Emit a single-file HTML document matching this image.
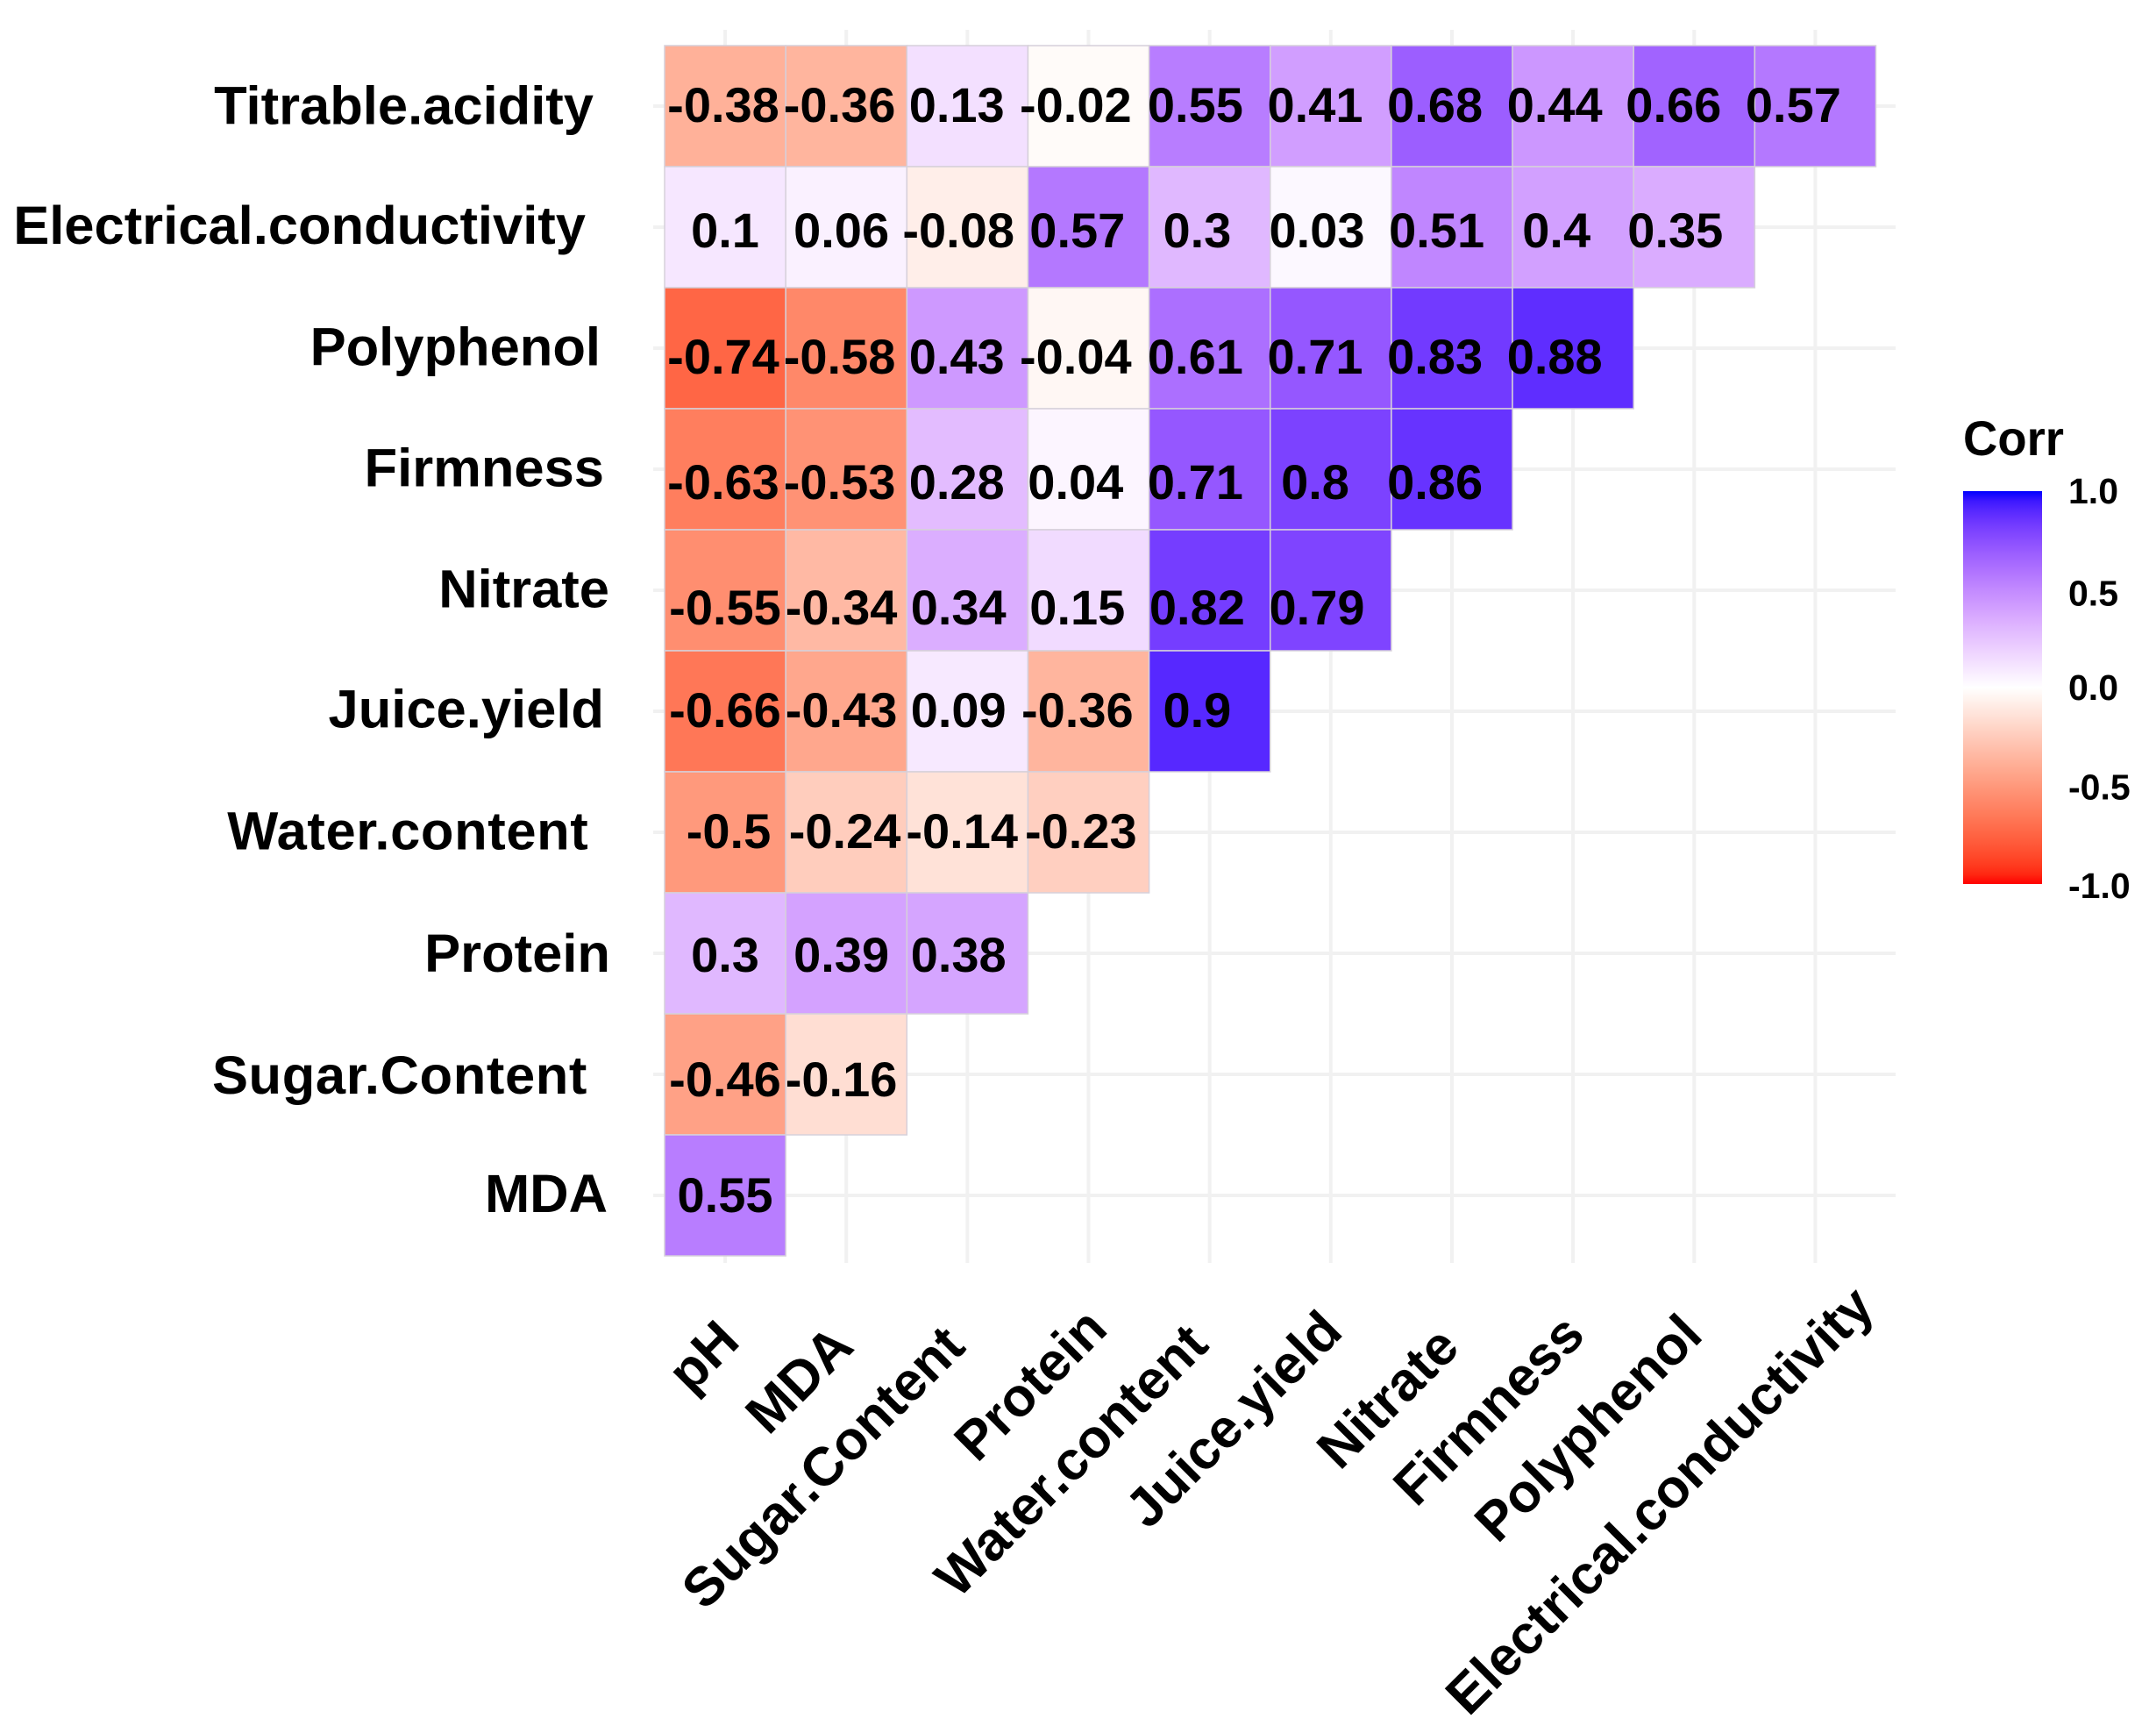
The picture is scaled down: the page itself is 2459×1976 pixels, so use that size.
<!DOCTYPE html>
<html lang="en">
<head>
<meta charset="utf-8">
<title>Correlation heatmap</title>
<style>
  html, body { margin: 0; padding: 0; background: #fff; }
  svg { display: block; }
  text { font-family: "Liberation Sans", Arial, sans-serif; font-weight: bold; fill: #000; }
</style>
</head>
<body>
<svg id="chart" xmlns="http://www.w3.org/2000/svg" width="2459" height="1976" viewBox="0 0 2459 1976">
  <defs>
    <linearGradient id="legend-gradient" x1="0" y1="0" x2="0" y2="1"></linearGradient>
  </defs>
  <rect x="0" y="0" width="2459" height="1976" fill="#ffffff"/>
  <g id="grid"></g>
  <g id="cells"></g>
  <g id="values"></g>
  <g id="y-axis"></g>
  <g id="x-axis"></g>
  <g id="legend">
    <text x="2239" y="519" font-size="56" textLength="115" lengthAdjust="spacingAndGlyphs">Corr</text>
    <rect x="2239" y="560" width="90" height="448" fill="url(#legend-gradient)"/>
  </g>
</svg>
<script>
// ---- Data ----
const xCategories = ["pH", "MDA", "Sugar.Content", "Protein", "Water.content", "Juice.yield", "Nitrate", "Firmness", "Polyphenol", "Electrical.conductivity"];
const yCategories = ["Titrable.acidity", "Electrical.conductivity", "Polyphenol", "Firmness", "Nitrate", "Juice.yield", "Water.content", "Protein", "Sugar.Content", "MDA"];
const titrableAcidity = [-0.38, -0.36, 0.13, -0.02, 0.55, 0.41, 0.68, 0.44, 0.66, 0.57];
const electricalConductivity = [0.1, 0.06, -0.08, 0.57, 0.3, 0.03, 0.51, 0.4, 0.35];
const polyphenol = [-0.74, -0.58, 0.43, -0.04, 0.61, 0.71, 0.83, 0.88];
const firmness = [-0.63, -0.53, 0.28, 0.04, 0.71, 0.8, 0.86];
const nitrate = [-0.55, -0.34, 0.34, 0.15, 0.82, 0.79];
const juiceYield = [-0.66, -0.43, 0.09, -0.36, 0.9];
const waterContent = [-0.5, -0.24, -0.14, -0.23];
const protein = [0.3, 0.39, 0.38];
const sugarContent = [-0.46, -0.16];
const mda = [0.55];
const legendTicks = [1.0, 0.5, 0.0, -0.5, -1.0];
const legendTickLabels = ["1.0", "0.5", "0.0", "-0.5", "-1.0"];

// ---- Layout (label nudges only; not data) ----
const PLOT_LEFT = 758, PLOT_TOP = 52, CELL_W = 138.15, CELL_H = 138;
const valueRowShift = [18, 23, 29, 34, 39, 18, 18, 21, 25, 19];
const valueRowShiftX = [-2, 0, -2, -2, 0, 0, 4, 0, 0, 0];
const valueColShift = [2, -1, -3, -3, -2, -1, 0, 1, 1, 2];
const yLabelNudge = [-16, -25, -8, -4, 2, -4, -21.6, 3, -23, 0];
const yLabelRowShift = [20.7, 19, 19.7, 19.3, 19.5, 18.5, 19.6, 21, 22, 19];
const yLabelSpacing = [0, 0, 0, 0, 0, 0, 0.6, 0, 0.6, 0];
const xLabelShiftX = [19, 11, 0, 24, 1, 16, 11, 16, 12, 70];
const xLabelShiftY = [2, 8, 8, -12, 6, -9, 9, -5, -5, -37];
const legendTickNudge = [0, 4, -1, 0, 0];

const SVG_NS = "http://www.w3.org/2000/svg";
const rows = [titrableAcidity, electricalConductivity, polyphenol, firmness, nitrate, juiceYield, waterContent, protein, sugarContent, mda];

// ---- Axis functions ----
function xLeft(c) { return PLOT_LEFT + CELL_W * c; }
function xCenter(c) { return xLeft(c) + CELL_W / 2; }
function yTop(r) { return PLOT_TOP + CELL_H * r; }
function yCenter(r) { return yTop(r) + CELL_H / 2; }
function valueTextX(c) { return 825 + 135.6 * c; }
function legendBarY(v) { return 784 - 224 * v; }
function legendTickY(v) { return 799 - 225 * v; }

// ---- Colour scale: white to blue / red, interpolated in Lab with a slight purple lift ----
function colorFor(v) {
  const t = Math.max(-1, Math.min(1, v));
  const end = t >= 0 ? [32.30, 79.19, -107.86] : [53.24, 80.09, 67.20];
  const k = Math.abs(t);
  const bump = Math.sin(Math.PI * k);
  const L = 100 + (end[0] - 100) * k + (t >= 0 ? 1 : -2) * bump;
  const a = end[1] * k + (t >= 0 ? 6 : 0) * bump;
  const b = end[2] * k;
  const fy = (L + 16) / 116, fx = fy + a / 500, fz = fy - b / 200;
  const inv = function (f) { return f > 6 / 29 ? f * f * f : 3 * (6 / 29) * (6 / 29) * (f - 4 / 29); };
  const X = 0.95047 * inv(fx), Y = inv(fy), Z = 1.08883 * inv(fz);
  const lin = [
    3.2406 * X - 1.5372 * Y - 0.4986 * Z,
    -0.9689 * X + 1.8758 * Y + 0.0415 * Z,
    0.0557 * X - 0.2040 * Y + 1.0570 * Z
  ];
  const ch = lin.map(function (u) {
    const s = u <= 0.0031308 ? 12.92 * u : 1.055 * Math.pow(u, 1 / 2.4) - 0.055;
    return Math.round(255 * Math.max(0, Math.min(1, s)));
  });
  return "rgb(" + ch.join(",") + ")";
}

function make(tag, attrs, parent) {
  const el = document.createElementNS(SVG_NS, tag);
  Object.keys(attrs).forEach(function (k) { el.setAttribute(k, attrs[k]); });
  parent.appendChild(el);
  return el;
}

// ---- Grid ----
const gridGroup = document.getElementById("grid");
xCategories.forEach(function (name, c) {
  const line = make("line", { x1: xCenter(c), x2: xCenter(c), y1: 34, y2: 1440, stroke: "#f1f1f1", "stroke-width": 4 }, gridGroup);
  
  
});
yCategories.forEach(function (name, r) {
  const line = make("line", { x1: 745, x2: 2162, y1: yCenter(r), y2: yCenter(r), stroke: "#f1f1f1", "stroke-width": 4 }, gridGroup);
  
  
});

// ---- Cells and values ----
const cellGroup = document.getElementById("cells");
const valueGroup = document.getElementById("values");
rows.forEach(function (row, r) {
  row.forEach(function (v, c) {
    const cell = make("rect", {
      x: xLeft(c), y: yTop(r), width: CELL_W, height: CELL_H,
      fill: colorFor(v), stroke: "#d6d0da", "stroke-width": 1.5
    }, cellGroup);
    
    

    const label = make("text", {
      x: valueTextX(c) + valueColShift[c] + valueRowShiftX[r], y: yCenter(r) + valueRowShift[r],
      "text-anchor": "middle", "font-size": 56
    }, valueGroup);
    
    
    label.textContent = String(v);
  });
});

// ---- Y axis labels ----
const yGroup = document.getElementById("y-axis");
yCategories.forEach(function (name, r) {
  const label = make("text", {
    x: 693 + yLabelNudge[r], y: yCenter(r) + yLabelRowShift[r],
    "text-anchor": "end", "font-size": 61.5,
    "letter-spacing": yLabelSpacing[r]
  }, yGroup);
  
  
  label.textContent = name;
});

// ---- X axis labels ----
const xGroup = document.getElementById("x-axis");
xCategories.forEach(function (name, c) {
  const ax = xCenter(c) + xLabelShiftX[c];
  const ay = 1530 + xLabelShiftY[c];
  const label = make("text", {
    x: ax, y: ay, "text-anchor": "end", "font-size": 62,
    transform: "rotate(-45 " + ax + " " + ay + ")"
  }, xGroup);
  
  
  label.textContent = name;
});

// ---- Legend ----
const gradient = document.getElementById("legend-gradient");
for (let i = 0; i <= 40; i++) {
  make("stop", { offset: (i / 40), "stop-color": colorFor(1 - i / 20) }, gradient);
}
const legendGroup = document.getElementById("legend");
legendTicks.forEach(function (v, i) {
  const label = make("text", { x: 2359, y: legendTickY(v) + legendTickNudge[i], "font-size": 41 }, legendGroup);
  
  
  label.textContent = legendTickLabels[i];
});
</script>
</body>
</html>
